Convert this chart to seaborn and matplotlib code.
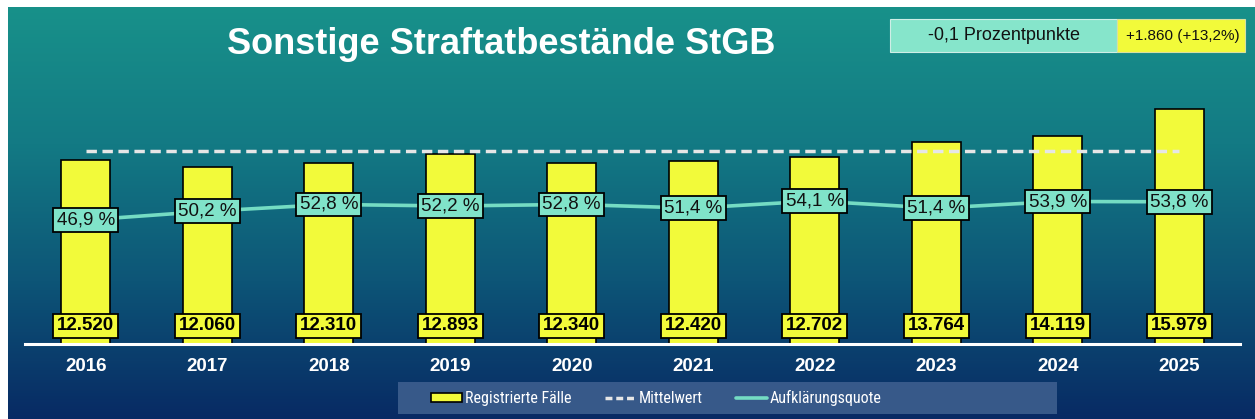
import numpy as np
import matplotlib
matplotlib.use("Agg")
import matplotlib.pyplot as plt
import seaborn as sns
from matplotlib.patches import Rectangle, Patch
from matplotlib.lines import Line2D
from matplotlib.colors import LinearSegmentedColormap
from matplotlib import font_manager
from matplotlib.font_manager import FontProperties

# ---- data ----
years = ["2016", "2017", "2018", "2019", "2020", "2021", "2022", "2023", "2024", "2025"]
cases = [12520, 12060, 12310, 12893, 12340, 12420, 12702, 13764, 14119, 15979]
rates = [46.9, 50.2, 52.8, 52.2, 52.8, 51.4, 54.1, 51.4, 53.9, 53.8]
title = "Sonstige Straftatbestände StGB"
delta_rate_text = "-0,1 Prozentpunkte"
delta_cases_text = "+1.860 (+13,2%)"
legend_labels = ["Registrierte Fälle", "Mittelwert", "Aufklärungsquote"]

YELLOW = "#f2fa3a"
AQUA = "#80e3c9"
LINE_C = "#74dcc3"

sns.set_theme(style="white")
plt.rcParams["font.family"] = ["Liberation Sans", "DejaVu Sans"]

# pick a condensed face for the legend if one is installed
leg_fp = None
pref = ["Liberation Sans Narrow", "Roboto Condensed", "Open Sans Condensed",
        "Roboto", "Open Sans", "Noto Sans", "DejaVu Sans", "Inter"]
cands = []
for f in font_manager.fontManager.ttflist:
    st = str(f.stretch)
    narrow_name = "Narrow" in f.name or "Condensed" in f.name
    if (narrow_name or st in ("condensed", "semi-condensed", "extra-condensed")) \
            and f.style == "normal" and f.weight in (400, "normal", "regular"):
        rank = pref.index(f.name) if f.name in pref else len(pref)
        cands.append((rank, f.fname))
if cands:
    cands.sort()
    leg_fp = FontProperties(fname=cands[0][1])
else:
    leg_fp = FontProperties(family="Liberation Sans")

W, H = 1255, 419
fig = plt.figure(figsize=(W / 100, H / 100), dpi=100)
fig.patch.set_facecolor("white")

# background gradient
bg = fig.add_axes([8 / W, 0, 1 - 8 / W, (H - 7) / H], zorder=-10)
cmap = LinearSegmentedColormap.from_list(
    "bg", ["#18918a", "#137a84", "#0d5577", "#082a64"], N=256)
grad = np.linspace(0, 1, 256).reshape(-1, 1)
bg.imshow(grad, aspect="auto", cmap=cmap, extent=[0, 1, 0, 1], origin="upper")
bg.set_axis_off()

def fx(px):
    return px / W

def fy(py):
    return 1 - py / H

ax_bottom, ax_top = 344, 100
ax = fig.add_axes([fx(25), fy(ax_bottom), fx(1240) - fx(25), (ax_bottom - ax_top) / H])
ax.set_facecolor("none")

sns.barplot(x=years, y=cases, color=YELLOW, saturation=1, width=0.4,
            edgecolor="black", linewidth=1.2, ax=ax, zorder=2)
ax.set_xlim(-0.5, len(years) - 0.5)
ax.set_ylim(0, 16600)

mean_val = float(np.mean(cases))
xs = np.arange(len(years))
ml, = ax.plot([xs[0], xs[-1]], [mean_val, mean_val], color="#e6e6e6", lw=2.5, zorder=4)
ml.set_dashes((3.0, 1.6))

for s in ["top", "left", "right"]:
    ax.spines[s].set_visible(False)
ax.spines["bottom"].set_color("white")
ax.spines["bottom"].set_linewidth(2.2)
ax.spines["bottom"].set_zorder(5)
ax.set_yticks([])
ax.set_xlabel("")
ax.set_ylabel("")
ax.tick_params(axis="x", length=0, pad=10, labelsize=13.5, labelcolor="white")
for t in ax.get_xticklabels():
    t.set_fontweight("bold")

def de_int(v):
    return f"{v:,}".replace(",", ".")

for i, v in enumerate(cases):
    ax.text(i, 0.074, de_int(v), transform=ax.get_xaxis_transform(),
            ha="center", va="center", fontsize=13.5, fontweight="bold", color="black",
            zorder=6,
            bbox=dict(boxstyle="square,pad=0.2", fc=YELLOW, ec="black", lw=1.3))

ax2 = ax.twinx()
ax2.set_ylim(0, 92.3)
sns.lineplot(x=xs, y=rates, color=LINE_C, lw=2.6, ax=ax2, zorder=3)
ax2.set_axis_off()
ax2.set_xlim(-0.5, len(years) - 0.5)
for i, r in enumerate(rates):
    ax2.text(i, r, f"{r:.1f} %".replace(".", ","), ha="center", va="center",
             fontsize=13.5, color="#111111", zorder=6,
             bbox=dict(boxstyle="square,pad=0.18", fc=AQUA, ec="black", lw=1.3))

# title
fig.text(fx(501), fy(44), title, ha="center", va="center", color="white",
         fontsize=26, fontweight="bold")

# top-right boxes
fig.patches.append(Rectangle((fx(890), fy(52)), fx(1117) - fx(890), (52 - 19) / H,
                             transform=fig.transFigure, fc="#86e5cb", ec="#cfeee6", lw=0.8))
fig.patches.append(Rectangle((fx(1117), fy(52)), fx(1245) - fx(1117), (52 - 19) / H,
                             transform=fig.transFigure, fc=YELLOW, ec="#d8e0a0", lw=0.8))
fig.text(fx(1004), fy(36), delta_rate_text, ha="center", va="center",
         fontsize=13, color="#111111")
fig.text(fx(1183), fy(36), delta_cases_text, ha="center", va="center",
         fontsize=11, color="#111111")

# legend: size the font so the first label is ~106 px wide (as in the reference)
renderer = fig.canvas.get_renderer()
probe = fig.text(0, 0, legend_labels[0], fontproperties=leg_fp, fontsize=13)
wpx = probe.get_window_extent(renderer).width
probe.remove()
leg_size = min(13.0, 13.0 * 106.0 / wpx)
fpx = leg_size * 100 / 72.0
leg_fp.set_size(leg_size)

fig.patches.append(Rectangle((fx(398), fy(414)), fx(1057) - fx(398), (414 - 382) / H,
                             transform=fig.transFigure, fc="#3a5c8c", ec="none", alpha=0.95))
handles = [
    Patch(fc=YELLOW, ec="black", lw=1.2),
    Line2D([0], [0], color="#e6e6e6", lw=2.5, dashes=(2.0, 1.1)),
    Line2D([0], [0], color=LINE_C, lw=2.6),
]
leg = fig.legend(handles, legend_labels, loc="center left", bbox_to_anchor=(fx(431), fy(398)),
                 ncol=3, frameon=False, labelcolor="white", prop=leg_fp,
                 borderpad=0, borderaxespad=0, handleheight=0.45,
                 handlelength=31 / fpx, handletextpad=3 / fpx, columnspacing=33 / fpx)

fig.savefig("out.png", dpi=100)
